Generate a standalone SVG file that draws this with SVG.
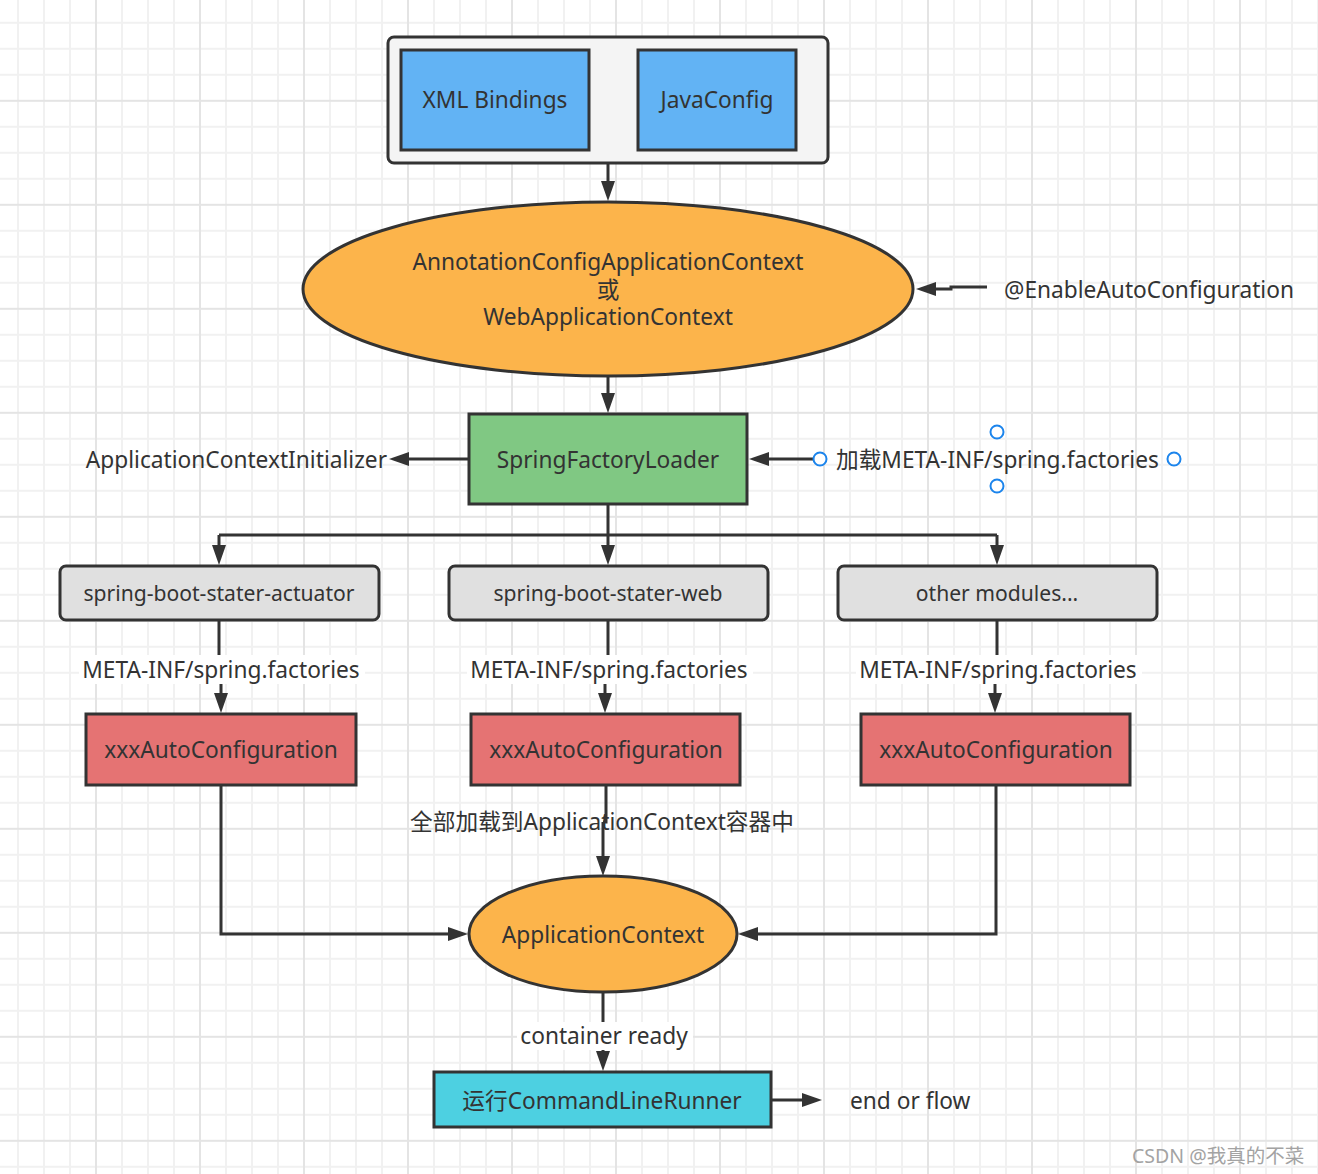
<svg xmlns="http://www.w3.org/2000/svg" width="1318" height="1174" viewBox="0 0 1318 1174">
<defs>
<pattern id="grid" patternUnits="userSpaceOnUse" x="95" y="99.8" width="104" height="104">
<rect x="0" y="0" width="104" height="104" fill="#ffffff"/>
<g fill="#f1f1f1">
<rect x="26" y="0" width="2" height="104"/><rect x="52" y="0" width="2" height="104"/><rect x="78" y="0" width="2" height="104"/>
<rect x="0" y="26" width="104" height="2"/><rect x="0" y="52" width="104" height="2"/><rect x="0" y="78" width="104" height="2"/>
</g>
<g fill="#e4e4e4">
<rect x="0" y="0" width="2" height="104"/><rect x="0" y="0" width="104" height="2"/>
</g>
</pattern>
<marker id="arr" viewBox="0 0 20 14" refX="8" refY="7" markerWidth="20" markerHeight="14" markerUnits="userSpaceOnUse" orient="auto">
<path d="M0,0 L20,7 L0,14 z" fill="#333333"/>
</marker>
</defs>
<style>
.t{font-family:"Noto Sans","Noto Sans CJK SC",sans-serif;font-size:22.7px;fill:#333333;}
.m{font-size:21.1px;}
.c{text-anchor:middle;}
.box{stroke:#333333;stroke-width:3;}
.ln{fill:none;stroke:#333333;stroke-width:3;}
.la{fill:none;stroke:#333333;stroke-width:3;marker-end:url(#arr);}
.pt{fill:#ffffff;stroke:#1b84ec;stroke-width:2;}
.lbg{fill:#ffffff;}
</style>
<rect x="0" y="0" width="1318" height="1174" fill="url(#grid)"/>

<g id="connectors">
<path class="la" d="M608,164 L608,189"/>
<path class="la" d="M987,287 L951,287 L951,289 L928,289"/>
<path class="la" d="M608,377 L608,401"/>
<path class="la" d="M469,459 L401,459"/>
<path class="la" d="M814,459 L761,459"/>
<path class="ln" d="M608,505 L608,535 M219,535 L997,535"/>
<path class="la" d="M608,535 L608,553"/>
<path class="la" d="M219,535 L219,553"/>
<path class="la" d="M997,535 L997,553"/>
<path class="ln" d="M219,621 L219,670 L221,670"/>
<path class="la" d="M221,670 L221,701"/>
<path class="ln" d="M608,621 L608,670 L605,670"/>
<path class="la" d="M605,670 L605,701"/>
<path class="ln" d="M997,621 L997,670 L995,670"/>
<path class="la" d="M995,670 L995,701"/>
<path class="ln" d="M606,786 L606,822 L603,822"/>
<path class="la" d="M603,822 L603,864"/>
<path class="la" d="M221,786 L221,934 L456,934"/>
<path class="la" d="M996,786 L996,934 L750,934"/>
<path class="la" d="M603,993 L603,1059"/>
<path class="la" d="M771,1100 L810,1100"/>
</g>

<g id="config-container">
<rect class="box" x="388" y="37" width="440" height="126" rx="6" fill="#f4f4f4"/>
</g>
<g id="xml-bindings">
<rect class="box" x="401" y="50" width="188" height="100" fill="#62b3f4"/>
<text class="t c" x="495" y="108">XML Bindings</text>
</g>
<g id="javaconfig">
<rect class="box" x="638" y="50" width="158" height="100" fill="#62b3f4"/>
<text class="t c" x="717" y="108">JavaConfig</text>
</g>

<g id="app-context-main">
<ellipse class="box" cx="608" cy="289" rx="305" ry="87" fill="#fcb44b"/>
<text class="t c" x="608" y="270">AnnotationConfigApplicationContext</text>
<text class="t c" x="608" y="298">或</text>
<text class="t c" x="608" y="325">WebApplicationContext</text>
</g>
<g id="enable-auto">
<text class="t" x="1004" y="298">@EnableAutoConfiguration</text>
</g>

<g id="spring-factory-loader">
<rect class="box" x="469" y="414" width="278" height="90" fill="#80c883"/>
<text class="t c" x="608" y="468">SpringFactoryLoader</text>
</g>
<g id="aci">
<text class="t" x="387" y="468" text-anchor="end">ApplicationContextInitializer</text>
</g>
<g id="load-factories">
<circle class="pt" cx="820" cy="459" r="6.5"/>
<circle class="pt" cx="997" cy="432" r="6.5"/>
<circle class="pt" cx="997" cy="486" r="6.5"/>
<circle class="pt" cx="1174" cy="459" r="6.5"/>
<text class="t" x="836" y="468">加载META-INF/spring.factories</text>
</g>

<g id="mod-actuator">
<rect class="box" x="60" y="566" width="319" height="54" rx="6" fill="#e0e0e0"/>
<text class="t m c" x="219" y="601">spring-boot-stater-actuator</text>
</g>
<g id="mod-web">
<rect class="box" x="449" y="566" width="319" height="54" rx="6" fill="#e0e0e0"/>
<text class="t m c" x="608" y="601">spring-boot-stater-web</text>
</g>
<g id="mod-other">
<rect class="box" x="838" y="566" width="319" height="54" rx="6" fill="#e0e0e0"/>
<text class="t m c" x="997" y="601">other modules...</text>
</g>

<g id="labels-factories">
<rect class="lbg" x="79" y="655" width="286" height="29"/>
<text class="t c" x="221" y="678">META-INF/spring.factories</text>
<rect class="lbg" x="467" y="655" width="286" height="29"/>
<text class="t c" x="609" y="678">META-INF/spring.factories</text>
<rect class="lbg" x="856" y="655" width="286" height="29"/>
<text class="t c" x="998" y="678">META-INF/spring.factories</text>
</g>

<g id="auto-1">
<rect class="box" x="86" y="714" width="270" height="71" fill="#e57373"/>
<text class="t c" x="221" y="758">xxxAutoConfiguration</text>
</g>
<g id="auto-2">
<rect class="box" x="471" y="714" width="269" height="71" fill="#e57373"/>
<text class="t c" x="606" y="758">xxxAutoConfiguration</text>
</g>
<g id="auto-3">
<rect class="box" x="861" y="714" width="269" height="71" fill="#e57373"/>
<text class="t c" x="996" y="758">xxxAutoConfiguration</text>
</g>
<g id="load-all-label">
<text class="t c" x="602" y="830">全部加载到ApplicationContext容器中</text>
</g>

<g id="application-context">
<ellipse class="box" cx="603" cy="934" rx="134" ry="58" fill="#fcb44b"/>
<text class="t c" x="603" y="943">ApplicationContext</text>
</g>
<g id="container-ready">
<rect class="lbg" x="517" y="1022" width="176" height="28"/>
<text class="t c" x="604" y="1044">container ready</text>
</g>
<g id="command-line-runner">
<rect class="box" x="434" y="1072" width="337" height="55" fill="#4dd0e1"/>
<text class="t c" x="602" y="1109">运行CommandLineRunner</text>
</g>
<g id="end-or-flow">
<text class="t" x="850" y="1109">end or flow</text>
</g>
<g id="watermark">
<text x="1132" y="1163" style="font-family:'Noto Sans','Noto Sans CJK SC',sans-serif;font-size:19.5px;fill:#a3a3a3;">CSDN @我真的不菜</text>
</g>
</svg>
